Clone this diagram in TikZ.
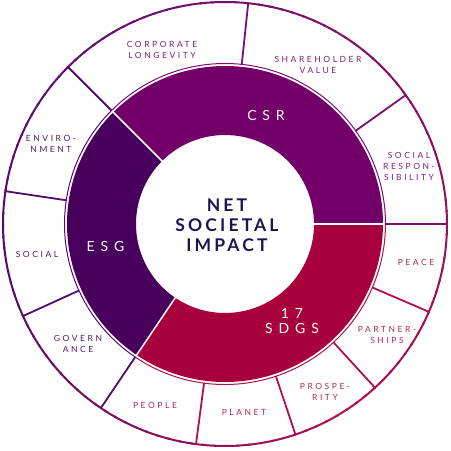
\documentclass[tikz,border=0pt]{standalone}
\usepackage{fontspec}
\setmainfont{Lato}
\newfontfamily\lblfont[LetterSpace=30]{Lato}
\newfontfamily\bandfont[LetterSpace=42]{Lato}
\newfontfamily\ctrfont[LetterSpace=18]{Lato}
\definecolor{csr}{HTML}{730068}
\definecolor{esg}{HTML}{48005C}
\definecolor{sdg}{HTML}{A8003C}
\definecolor{csrL}{HTML}{7A0F73}
\definecolor{esgL}{HTML}{4F0C6C}
\definecolor{sdgL}{HTML}{B01050}
\definecolor{csrT}{HTML}{7D1F7A}
\definecolor{esgT}{HTML}{4F1A70}
\definecolor{sdgT}{HTML}{B0285C}
\definecolor{navy}{HTML}{1E1450}
\tikzset{
  lbl/.style={font=\lblfont\fontsize{8.5}{11}\selectfont, align=center, inner sep=0pt},
  bandlbl/.style={font=\bandfont\fontsize{14}{15}\selectfont, align=center, inner sep=0pt, text=white},
  ctrlbl/.style={font=\ctrfont\bfseries\fontsize{17.5}{20}\selectfont, align=center, inner sep=0pt, text=navy},
  divline/.style={line width=1.8pt},
  sepline/.style={white, line width=1.5pt}
}
\begin{document}
\begin{tikzpicture}[x=1pt,y=1pt]
\useasboundingbox (-225,-227) rectangle (226,224);
% inner colored bands
\fill[csr] (0:158) arc[start angle=0,end angle=135,radius=158] -- (135:89) arc[start angle=135,end angle=0,radius=89] -- cycle;
\fill[esg] (135:158) arc[start angle=135,end angle=236,radius=158] -- (236:89) arc[start angle=236,end angle=135,radius=89] -- cycle;
\fill[sdg] (236:158) arc[start angle=236,end angle=360,radius=158] -- (360:89) arc[start angle=360,end angle=236,radius=89] -- cycle;
\foreach \a in {0,135,236}{\draw[sepline] (\a:87) -- (\a:159);}
% thin ring
\draw[csrL, line width=1pt] (0:160.5) arc[start angle=0,end angle=135,radius=160.5];
\draw[esgL, line width=1pt] (135:160.5) arc[start angle=135,end angle=236,radius=160.5];
\draw[sdgL, line width=1pt] (236:160.5) arc[start angle=236,end angle=360,radius=160.5];
% outer circle with gradient
\foreach \a in {0,3,...,357}{
  \pgfmathsetmacro{\m}{mod(\a+62,360)}
  \ifdim\m pt<129.5pt
    \pgfmathtruncatemacro{\p}{100*\m/129.5}
    \colorlet{cc}{csrL!\p!sdgL}
  \else\ifdim\m pt<247.5pt
    \pgfmathtruncatemacro{\p}{100*(\m-129.5)/118}
    \colorlet{cc}{esgL!\p!csrL}
  \else
    \pgfmathtruncatemacro{\p}{100*(\m-247.5)/112.5}
    \colorlet{cc}{sdgL!\p!esgL}
  \fi\fi
  \draw[cc, line width=2pt] (\a:222) arc[start angle=\a, end angle=\a+3.6, radius=222];
}
% outer dividers
\foreach \a in {0,35.5,84}{\draw[divline, csrL] (\a:160.5) -- (\a:222);}
\foreach \a in {135,171.5,204.5,236}{\draw[divline, esgL] (\a:160.5) -- (\a:222);}
\foreach \a in {262.5,288.5,312.5,336.7}{\draw[divline, sdgL] (\a:160.5) -- (\a:222);}
% outer labels
\node[lbl, text=csrT] (corp) at (-63,174.5) {CORPORATE\\LONGEVITY};
\node[lbl, text=csrT] (share) at (93,158.7) {SHAREHOLDER\\VALUE};
\node[lbl, text=csrT] (socresp) at (184,58) {SOCIAL\\RESPON-\\SIBILITY};
\node[lbl, text=esgT] (env) at (-174,80) {ENVIRO-\\NMENT};
\node[lbl, text=esgT] (social) at (-188,-30) {SOCIAL};
\node[lbl, text=esgT] (gov) at (-147,-119.5) {GOVERN\\ANCE};
\node[lbl, text=sdgT] (people) at (-70,-181) {PEOPLE};
\node[lbl, text=sdgT] (planet) at (19,-188) {PLANET};
\node[lbl, text=sdgT] (prosp) at (100,-167.5) {PROSPE-\\RITY};
\node[lbl, text=sdgT] (partner) at (162,-110.5) {PARTNER-\\SHIPS};
\node[lbl, text=sdgT] (peace) at (191,-38) {PEACE};
% band labels
\node[bandlbl] (csrlbl) at (41,109) {CSR};
\node[bandlbl] (esglbl) at (-119.5,-22) {ESG};
\node[bandlbl] (sdglbl) at (67,-97.5) {17\\SDGS};
% center
\node[ctrlbl] (center) at (2,-1) {NET\\SOCIETAL\\IMPACT};
\end{tikzpicture}
\end{document}
